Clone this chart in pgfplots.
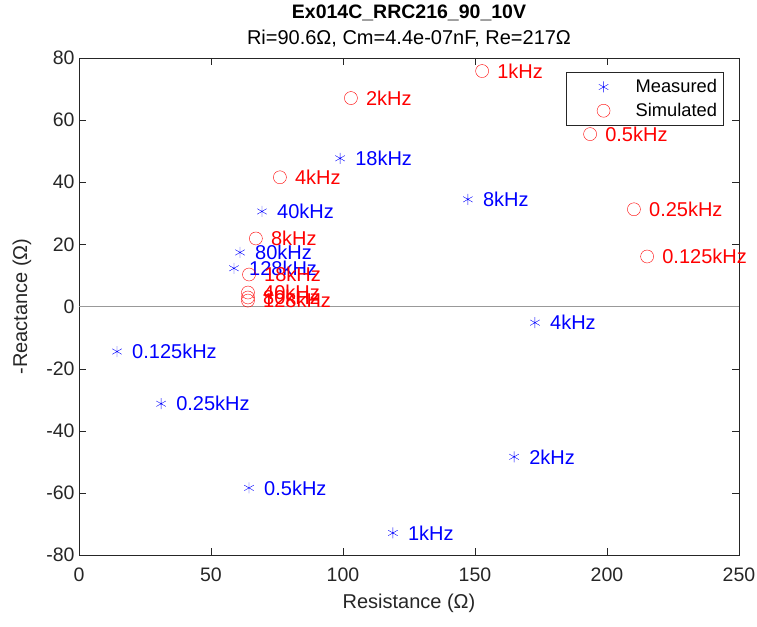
\documentclass[border=0pt]{standalone}
\usepackage{fontspec}
\setmainfont{Liberation Sans}
\usepackage{pgfplots}
\pgfplotsset{compat=1.18}

% Measured impedance points: resistance, -reactance, frequency label
\pgfplotstableread{
x y label
14.4 -14.5 0.125kHz
31.1 -31.3 0.25kHz
64.4 -58.4 0.5kHz
118.9 -72.9 1kHz
164.8 -48.4 2kHz
172.7 -5.2 4kHz
147.3 34.5 8kHz
98.9 47.7 18kHz
69.3 30.6 40kHz
61.0 17.4 80kHz
58.7 12.3 128kHz
}\measured

% Simulated impedance points from the fitted model
\pgfplotstableread{
x y label
215.2 16.1 0.125kHz
210.2 31.3 0.25kHz
193.6 55.5 0.5kHz
152.7 75.8 1kHz
103.0 67.1 2kHz
76.1 41.6 4kHz
67.0 21.9 8kHz
64.4 10.3 18kHz
64.0 4.5 40kHz
64.0 2.9 80kHz
64.0 1.9 128kHz
}\simulated

\definecolor{axisgray}{RGB}{38,38,38}

% wide legend sample with the marker placed in its middle
\pgfplotsset{widelegend/.style={legend image code/.code={%
    \path[draw=none] (0pt,-1pt) rectangle (63pt,1pt);
    \path[##1, mark repeat=2, mark phase=2]
    plot coordinates {(0pt,0pt) (33pt,0pt) (63pt,0pt)};}}}

\begin{document}
\begin{tikzpicture}[x=1pt,y=1pt]
\begin{axis}[
  at={(79pt,71pt)}, anchor=south west,
  scale only axis, width=660pt, height=497pt,
  xmin=0, xmax=250, ymin=-80, ymax=80,
  xtick={0,50,...,250}, ytick={-80,-60,...,80},
  tick align=inside, major tick length=7pt,
  axis line style={axisgray}, tick style={axisgray},
  /pgf/number format/assume math mode=true,
  ticklabel style={font=\fontsize{19.5}{22}\selectfont, text=axisgray},
  xticklabel style={yshift=-9pt},
  yticklabel style={xshift=-1pt},
  xlabel={Resistance (Ω)}, ylabel={-Reactance (Ω)},
  label style={font=\fontsize{20}{23}\selectfont, text=axisgray},
  xlabel style={at={(axis description cs:0.5,-0.079)}, anchor=north, inner sep=0pt},
  ylabel style={at={(axis description cs:-0.072,0.5)}, anchor=south, inner sep=0pt},
  title={\textbf{Ex014C\_RRC216\_90\_10V}\\\fontsize{20}{26}\selectfont Ri=90.6Ω, Cm=4.4e-07nF, Re=217Ω},
  title style={font=\fontsize{19.5}{26}\selectfont, align=center, yshift=1pt},
  legend style={at={(0.976,0.972)}, anchor=north east, draw=axisgray,
    font=\fontsize{18.3}{21}\selectfont, row sep=5pt, inner xsep=4pt, inner ysep=5.5pt},
  legend cell align=left,
  nodes near coords, point meta=explicit symbolic,
  nodes near coords style={anchor=west, inner sep=0pt, xshift=15pt,
    font=\fontsize{20}{23}\selectfont},
]
\addplot[gray!80, forget plot, nodes near coords=] coordinates {(0,0) (250,0)};
\addplot[only marks, blue, mark=asterisk, mark size=5.5pt, widelegend,
  nodes near coords style={text=blue}] table[x=x, y=y, meta=label] {\measured};
\addlegendentry{Measured}
\addplot[only marks, red, mark=o, mark size=6.5pt, widelegend,
  nodes near coords style={text=red}] table[x=x, y=y, meta=label] {\simulated};
\addlegendentry{Simulated}
\end{axis}
\pgfresetboundingbox
\path (0,0) rectangle (757,626);
\end{tikzpicture}
\end{document}
